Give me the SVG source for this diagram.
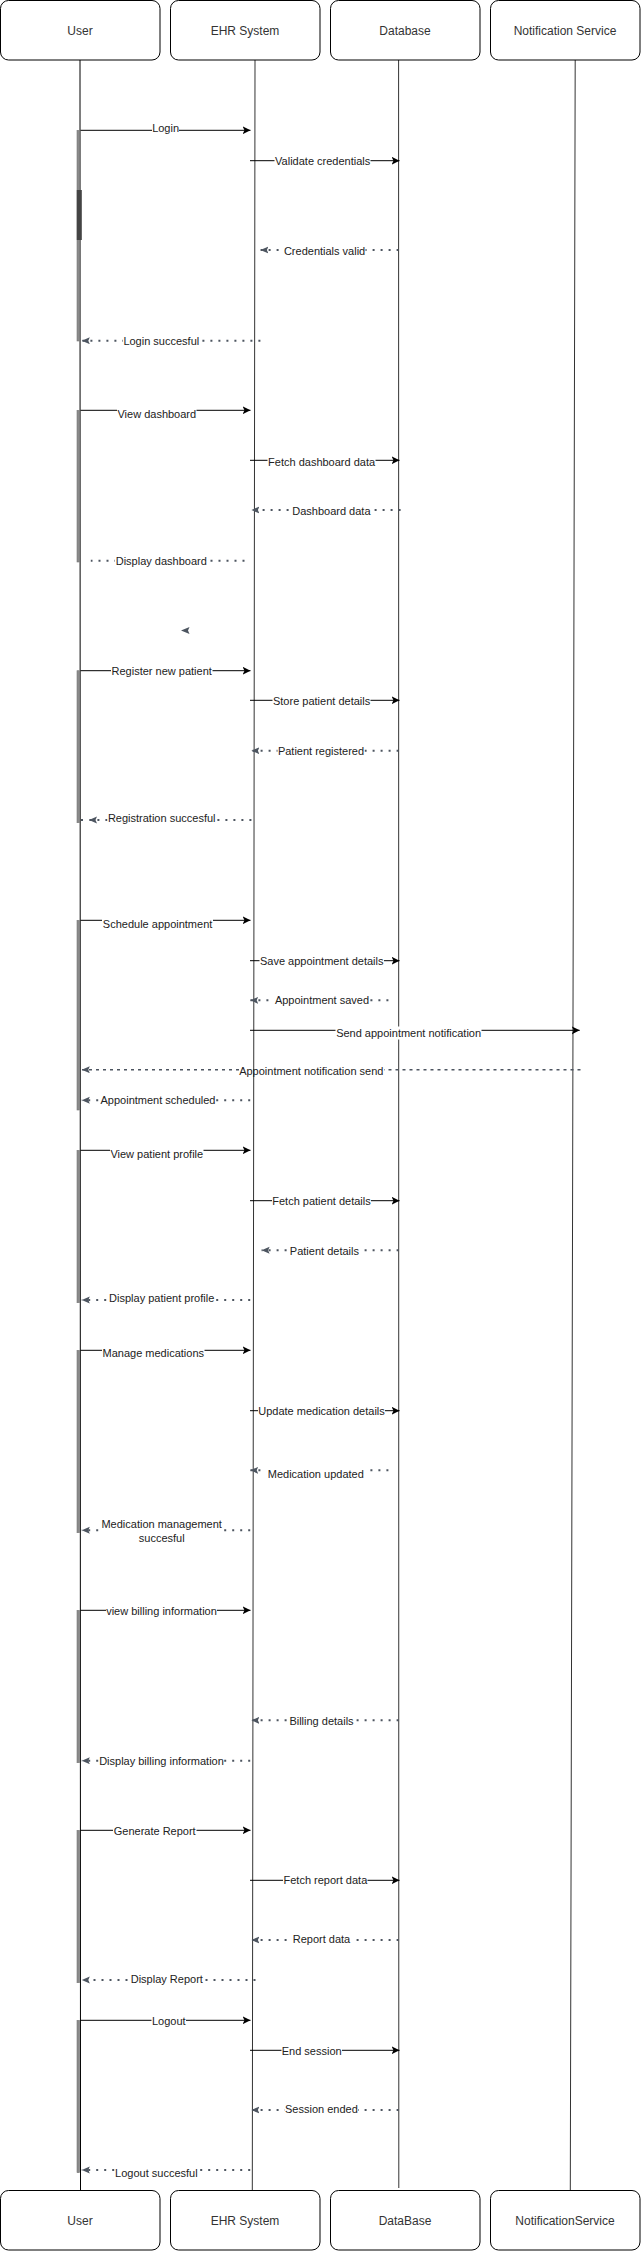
<svg xmlns="http://www.w3.org/2000/svg" width="641" height="2251" viewBox="0 0 641 2251">
<style>
.box{fill:#fff;stroke:#000;stroke-width:1}
.bt{font-family:"Liberation Sans",Arial,sans-serif;font-size:12px;fill:#333;text-anchor:middle}
.life{stroke:#333;stroke-width:1;fill:none}
.act{fill:#8a8a8a;stroke:#777;stroke-width:0.6}
.sol{stroke:#000;stroke-width:1;fill:none;marker-end:url(#ah)}
.dot{stroke:#4d5560;stroke-width:2;stroke-dasharray:2 6;fill:none;marker-end:url(#gh)}
.dotn{stroke:#4d5560;stroke-width:2;stroke-dasharray:2 6;fill:none}
.dash{stroke:#4d5560;stroke-width:1.5;stroke-dasharray:3 4;fill:none}
.bg{fill:#fff}
.lb{font-family:"Liberation Sans",Arial,sans-serif;font-size:11px;fill:#222;text-anchor:middle}
</style>
<defs>
<marker id="ah" markerWidth="10" markerHeight="10" refX="8" refY="4" orient="auto" markerUnits="userSpaceOnUse"><path d="M0,0 L8,4 L0,8 L2,4 z" fill="#000"/></marker>
<marker id="gh" markerWidth="12" markerHeight="12" refX="8" refY="3.5" orient="auto" markerUnits="userSpaceOnUse"><path d="M0,0 L8,3.5 L0,7 L1.5,3.5 z" fill="#4d5560"/></marker>
</defs>

<g id="node-user">
<line class="life" x1="80" y1="60" x2="80.5" y2="2190" style="stroke:#000"/>
<rect class="act" x="77" y="130.3" width="2.6" height="210.7"/>
<rect x="76.8" y="190" width="5" height="50" fill="#444"/>
<rect class="act" x="77" y="410.3" width="2.6" height="151.7"/>
<rect class="act" x="77" y="670.7" width="2.6" height="152"/>
<rect class="act" x="77" y="920.3" width="2.6" height="189.7"/>
<rect class="act" x="77" y="1150.3" width="2.6" height="152.4"/>
<rect class="act" x="77" y="1350.3" width="2.6" height="182.4"/>
<rect class="act" x="77" y="1610.3" width="2.6" height="152.4"/>
<rect class="act" x="77" y="1830.3" width="2.6" height="152.4"/>
<rect class="act" x="77" y="2020.3" width="2.6" height="152.4"/>
<rect class="box" x="0.5" y="0.5" width="159.5" height="59.5" rx="8"/>
<text class="bt" x="80" y="34.5">User</text>
</g>
<g id="node-ehr">
<line class="life" x1="255" y1="60" x2="252.3" y2="2190"/>
<rect class="box" x="170.5" y="0.5" width="149.5" height="59.5" rx="8"/>
<text class="bt" x="245" y="34.5">EHR System</text>
</g>
<g id="node-db">
<line class="life" x1="398.6" y1="60" x2="398.8" y2="2188"/>
<rect class="box" x="330.5" y="0.5" width="149.5" height="59.5" rx="8"/>
<text class="bt" x="405" y="34.5">Database</text>
</g>
<g id="node-notif">
<line class="life" x1="575.2" y1="60" x2="570.3" y2="2190"/>
<rect class="box" x="490.5" y="0.5" width="149.5" height="59.5" rx="8"/>
<text class="bt" x="565" y="34.5">Notification Service</text>
</g>
<g id="node-user-bottom">
<rect class="box" x="0.5" y="2190.5" width="159.5" height="59.5" rx="8"/>
<text class="bt" x="80" y="2224.5">User</text>
</g>
<g id="node-ehr-bottom">
<rect class="box" x="170.5" y="2190.5" width="149.5" height="59.5" rx="8"/>
<text class="bt" x="245" y="2224.5">EHR System</text>
</g>
<g id="node-db-bottom">
<rect class="box" x="330.5" y="2190.5" width="149.5" height="59.5" rx="8"/>
<text class="bt" x="405" y="2224.5">DataBase</text>
</g>
<g id="node-notif-bottom">
<rect class="box" x="490.5" y="2190.5" width="149.5" height="59.5" rx="8"/>
<text class="bt" x="565" y="2224.5">NotificationService</text>
</g>

<g id="connectors">
<line class="sol" x1="80.5" y1="130.3" x2="250.5" y2="130.3"/>
<rect class="bg" x="152" y="122" width="27" height="13"/><text class="lb" x="165.6" y="132.3">Login</text>

<line class="sol" x1="250" y1="160.7" x2="399.5" y2="160.7"/>
<rect class="bg" x="274.5" y="154.8" width="96" height="13"/><text class="lb" x="322.7" y="165.3">Validate credentials</text>

<line class="dot" x1="398.6" y1="250" x2="260.4" y2="250"/>
<rect class="bg" x="283.5" y="244.2" width="82" height="13"/><text class="lb" x="324.6" y="254.7">Credentials valid</text>

<line class="dot" x1="260.4" y1="340.7" x2="81.8" y2="340.7"/>
<rect class="bg" x="123" y="334.8" width="76.5" height="13"/><text class="lb" x="161.3" y="345.3">Login succesful</text>

<line class="sol" x1="80.5" y1="410.3" x2="250.5" y2="410.3"/>
<rect class="bg" x="117" y="407.5" width="79.5" height="13"/><text class="lb" x="156.8" y="418">View dashboard</text>

<line class="sol" x1="250" y1="460.3" x2="399.5" y2="460.3"/>
<rect class="bg" x="267.5" y="455.5" width="108" height="13"/><text class="lb" x="321.6" y="466">Fetch dashboard data</text>

<line class="dot" x1="400.6" y1="510" x2="251.4" y2="510"/>
<rect class="bg" x="292" y="504.5" width="78.5" height="13"/><text class="lb" x="331.4" y="515">Dashboard data</text>

<line class="dotn" x1="244.5" y1="560.7" x2="90.8" y2="560.7"/>
<rect class="bg" x="115" y="554.5" width="92.5" height="13"/><text class="lb" x="161.3" y="565">Display dashboard</text>

<path d="M181,630.5 L189.5,627 L188,630.5 L189.5,634 z" fill="#4d5560"/>

<line class="sol" x1="80.5" y1="670.7" x2="250.5" y2="670.7"/>
<rect class="bg" x="111" y="664.5" width="101.5" height="13"/><text class="lb" x="161.7" y="675">Register new patient</text>

<line class="sol" x1="250" y1="700.3" x2="399.5" y2="700.3"/>
<rect class="bg" x="272.5" y="694.5" width="98" height="13"/><text class="lb" x="321.6" y="705">Store patient details</text>

<line class="dot" x1="398.6" y1="750.7" x2="251.4" y2="750.7"/>
<rect class="bg" x="277.5" y="744.5" width="87" height="13"/><text class="lb" x="321" y="755">Patient registered</text>

<line class="dot" x1="251.4" y1="820" x2="89" y2="820"/>
<rect x="81" y="819" width="2" height="2" fill="#4d5560"/>
<rect class="bg" x="107.5" y="811.5" width="108.5" height="13"/><text class="lb" x="161.7" y="822">Registration succesful</text>

<line class="sol" x1="80.5" y1="920.3" x2="250.5" y2="920.3"/>
<rect class="bg" x="102" y="917.8" width="111" height="13"/><text class="lb" x="157.6" y="928.3">Schedule appointment</text>

<line class="sol" x1="250" y1="960.7" x2="399.5" y2="960.7"/>
<rect class="bg" x="259.5" y="954.5" width="124.5" height="13"/><text class="lb" x="321.7" y="965">Save appointment details</text>

<line class="dot" x1="388.4" y1="1000.3" x2="250.2" y2="1000.3"/>
<rect class="bg" x="274" y="993.8" width="95.5" height="13"/><text class="lb" x="322" y="1004.3">Appointment saved</text>

<line class="sol" x1="250" y1="1030.3" x2="579.7" y2="1030.3"/>
<rect class="bg" x="335.5" y="1026.5" width="146" height="13"/><text class="lb" x="408.6" y="1037">Send appointment notification</text>

<line class="dash" x1="580.5" y1="1069.7" x2="384" y2="1069.7"/>
<line class="dash" x1="239" y1="1069.7" x2="81.8" y2="1069.7" style="marker-end:url(#gh)"/>
<text class="lb" x="311.3" y="1075">Appointment notification send</text>

<line class="dot" x1="250.2" y1="1100.3" x2="81.8" y2="1100.3"/>
<rect class="bg" x="100.5" y="1093.8" width="115.5" height="13"/><text class="lb" x="158" y="1104.3">Appointment scheduled</text>

<line class="sol" x1="80.5" y1="1150.3" x2="250.5" y2="1150.3"/>
<rect class="bg" x="110" y="1147.5" width="93.5" height="13"/><text class="lb" x="156.8" y="1158">View patient profile</text>

<line class="sol" x1="250" y1="1200.7" x2="399.5" y2="1200.7"/>
<rect class="bg" x="272" y="1194.5" width="99" height="13"/><text class="lb" x="321.5" y="1205">Fetch patient details</text>

<line class="dot" x1="398.6" y1="1250.3" x2="261.6" y2="1250.3"/>
<rect class="bg" x="289.5" y="1244.5" width="69.5" height="13"/><text class="lb" x="324.4" y="1255">Patient details</text>

<line class="dot" x1="250.2" y1="1300" x2="81.8" y2="1300"/>
<rect class="bg" x="109" y="1291.5" width="105.5" height="13"/><text class="lb" x="161.7" y="1302">Display patient profile</text>

<line class="sol" x1="80.5" y1="1350.3" x2="250.5" y2="1350.3"/>
<rect class="bg" x="102" y="1346.8" width="102.5" height="13"/><text class="lb" x="153.3" y="1357.3">Manage medications</text>

<line class="sol" x1="250" y1="1410.7" x2="399.5" y2="1410.7"/>
<rect class="bg" x="258" y="1404.8" width="127" height="13"/><text class="lb" x="321.5" y="1415.3">Update medication details</text>

<line class="dot" x1="388.4" y1="1470.3" x2="250.2" y2="1470.3"/>
<rect class="bg" x="264" y="1467.5" width="103" height="13"/><text class="lb" x="315.8" y="1478">Medication updated</text>

<line class="dot" x1="250.2" y1="1530.3" x2="81.8" y2="1530.3"/>
<rect class="bg" x="101" y="1517" width="121.5" height="28"/><text class="lb" x="161.7" y="1528.3">Medication management</text><text class="lb" x="161.7" y="1542.3">succesful</text>

<line class="sol" x1="80.5" y1="1610.3" x2="250.5" y2="1610.3"/>
<rect class="bg" x="106" y="1604.5" width="111" height="13"/><text class="lb" x="161.5" y="1615">view billing information</text>

<line class="dot" x1="398.6" y1="1720.3" x2="251.4" y2="1720.3"/>
<rect class="bg" x="289" y="1714.5" width="65" height="13"/><text class="lb" x="321.5" y="1725">Billing details</text>

<line class="dot" x1="250.2" y1="1760.7" x2="81.8" y2="1760.7"/>
<rect class="bg" x="99" y="1754.5" width="125" height="13"/><text class="lb" x="161.5" y="1765">Display billing information</text>

<line class="sol" x1="80.5" y1="1830.3" x2="250.5" y2="1830.3"/>
<rect class="bg" x="113" y="1824.8" width="83.5" height="13"/><text class="lb" x="154.7" y="1835.3">Generate Report</text>

<line class="sol" x1="250" y1="1880.3" x2="399.5" y2="1880.3"/>
<rect class="bg" x="283" y="1873.8" width="84.5" height="13"/><text class="lb" x="325.4" y="1884.3">Fetch report data</text>

<line class="dot" x1="398.6" y1="1940" x2="251.4" y2="1940"/>
<rect class="bg" x="292" y="1932.8" width="59" height="13"/><text class="lb" x="321.5" y="1943.3">Report data</text>

<line class="dot" x1="255.5" y1="1980" x2="81.8" y2="1980"/>
<rect class="bg" x="130" y="1972.5" width="73.5" height="13"/><text class="lb" x="166.8" y="1983">Display Report</text>

<line class="sol" x1="80.5" y1="2020.3" x2="250.5" y2="2020.3"/>
<rect class="bg" x="151.5" y="2014.5" width="34.5" height="13"/><text class="lb" x="168.8" y="2025">Logout</text>

<line class="sol" x1="250" y1="2050.3" x2="399.5" y2="2050.3"/>
<rect class="bg" x="281.5" y="2044.5" width="60.5" height="13"/><text class="lb" x="311.7" y="2055">End session</text>

<line class="dot" x1="398.6" y1="2110" x2="251.4" y2="2110"/>
<rect class="bg" x="284.5" y="2102.8" width="73.5" height="13"/><text class="lb" x="321.4" y="2113.3">Session ended</text>

<line class="dot" x1="250.2" y1="2170" x2="81.8" y2="2170"/>
<rect class="bg" x="115" y="2166.8" width="83" height="13"/><text class="lb" x="156.4" y="2177.3">Logout succesful</text>
</g>
</svg>
